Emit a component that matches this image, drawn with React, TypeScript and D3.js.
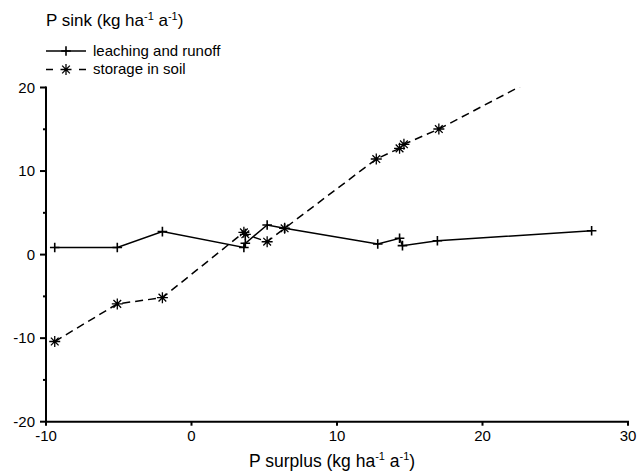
import React from "react";
import * as d3 from "d3";

// P surplus (x) against the two P sinks (y), kg ha-1 a-1
const leachX = [-9.4, -5.1, -2.0, 3.6, 3.7, 5.2, 6.4, 12.8, 14.3, 14.5, 16.9, 27.5];
const leachY = [0.85, 0.85, 2.75, 0.85, 1.35, 3.55, 3.15, 1.27, 1.95, 1.07, 1.66, 2.86];

const storX = [-9.4, -5.1, -2.0, 3.6, 3.7, 5.2, 6.4, 12.7, 14.3, 14.6, 17.0, 27.5];
const storY = [-10.4, -5.9, -5.15, 2.67, 2.43, 1.54, 3.15, 11.44, 12.72, 13.2, 15.03, 24.6];

const xTicks = [-10, 0, 10, 20, 30];
const yTicks = [-20, -10, 0, 10, 20];
const yMinorTicks = [-15, -5, 5, 15];

const W = 639;
const H = 474;
const FONT = "'Liberation Sans', Arial, Helvetica, sans-serif";

const x = d3.scaleLinear().domain([-10, 30]).range([46, 628]);
const y = d3.scaleLinear().domain([-20, 20]).range([421.7, 87.5]);

type Pt = [number, number];

const line = d3
  .line<Pt>()
  .x((d) => x(d[0]))
  .y((d) => y(d[1]));

const leach: Pt[] = leachX.map((v, i) => [v, leachY[i]]);
const stor: Pt[] = storX.map((v, i) => [v, storY[i]]);

function Plus({ cx, cy, r = 4.8 }: { cx: number; cy: number; r?: number }) {
  return (
    <path
      d={`M${cx - r},${cy}H${cx + r}M${cx},${cy - r}V${cy + r}`}
      stroke="#000"
      strokeWidth={1.6}
      fill="none"
    />
  );
}

function Star({ cx, cy, r = 5.5 }: { cx: number; cy: number; r?: number }) {
  const k = r * 0.7;
  return (
    <path
      d={`M${cx - r},${cy}H${cx + r}M${cx},${cy - r}V${cy + r}` +
        `M${cx - k},${cy - k}L${cx + k},${cy + k}M${cx - k},${cy + k}L${cx + k},${cy - k}`}
      stroke="#000"
      strokeWidth={1.3}
      fill="none"
    />
  );
}

function Unit({ size }: { size: number }) {
  const sup = Math.round(size * 0.62);
  const up = size * 0.38;
  return (
    <>
      <tspan>(kg ha</tspan>
      <tspan dy={-up} fontSize={sup}>-1</tspan>
      <tspan dy={up}> a</tspan>
      <tspan dy={-up} fontSize={sup}>-1</tspan>
      <tspan dy={up}>)</tspan>
    </>
  );
}

export default function App() {
  const x0 = x.range()[0];
  const x1 = x.range()[1];
  const yb = y.range()[0];
  const yt = y.range()[1];

  return (
    <svg
      width={W}
      height={H}
      viewBox={`0 0 ${W} ${H}`}
      style={{ position: "absolute", left: 0, top: 0, background: "#fff" }}
      fontFamily={FONT}
    >
      <defs>
        <clipPath id="plotClip">
          <rect x={x0} y={yt} width={x1 - x0 + 10} height={yb - yt} />
        </clipPath>
      </defs>

      {/* y title */}
      <text x={46} y={26} fontSize={17}>
        <tspan>P sink </tspan>
        <Unit size={17} />
      </text>

      {/* legend */}
      <g>
        <line x1={46} x2={86} y1={51} y2={51} stroke="#000" strokeWidth={1.6} />
        <Plus cx={66} cy={51} />
        <text x={93} y={56} fontSize={15}>leaching and runoff</text>
        <line
          x1={46}
          x2={86}
          y1={69.5}
          y2={69.5}
          stroke="#000"
          strokeWidth={1.6}
          strokeDasharray="7,26"
        />
        <Star cx={66} cy={69.5} />
        <text x={93} y={74} fontSize={15}>storage in soil</text>
      </g>

      {/* series */}
      <g clipPath="url(#plotClip)">
        <path d={line(leach) ?? ""} fill="none" stroke="#000" strokeWidth={1.5} />
        <path
          d={line(stor) ?? ""}
          fill="none"
          stroke="#000"
          strokeWidth={1.5}
          strokeDasharray="8,5"
        />
        {leach.map((d, i) => (
          <Plus key={`l${i}`} cx={x(d[0])} cy={y(d[1])} />
        ))}
        {stor.map((d, i) => (
          <Star key={`s${i}`} cx={x(d[0])} cy={y(d[1])} />
        ))}
      </g>

      {/* y axis */}
      <g stroke="#000" strokeWidth={2}>
        <line x1={x0} x2={x0} y1={yt - 1} y2={yb + 1} />
        {yTicks.map((t) => (
          <line key={`yt${t}`} x1={x0 - 6} x2={x0} y1={y(t)} y2={y(t)} />
        ))}
        {yMinorTicks.map((t) => (
          <line key={`ym${t}`} x1={x0 - 3} x2={x0} y1={y(t)} y2={y(t)} />
        ))}
      </g>
      {yTicks.map((t) => (
        <text key={`yl${t}`} x={35} y={y(t) + 5} fontSize={15} textAnchor="end">
          {t}
        </text>
      ))}

      {/* x axis */}
      <g stroke="#000" strokeWidth={2}>
        <line x1={x0 - 1} x2={x1 + 1} y1={yb} y2={yb} />
        {xTicks.map((t) => (
          <line key={`xt${t}`} x1={x(t)} x2={x(t)} y1={yb} y2={yb + 4} />
        ))}
      </g>
      {xTicks.map((t) => (
        <text key={`xl${t}`} x={x(t)} y={441} fontSize={15} textAnchor="middle">
          {t}
        </text>
      ))}

      {/* x title */}
      <text x={249} y={467} fontSize={17.5}>
        <tspan>P surplus </tspan>
        <Unit size={17.5} />
      </text>
    </svg>
  );
}
